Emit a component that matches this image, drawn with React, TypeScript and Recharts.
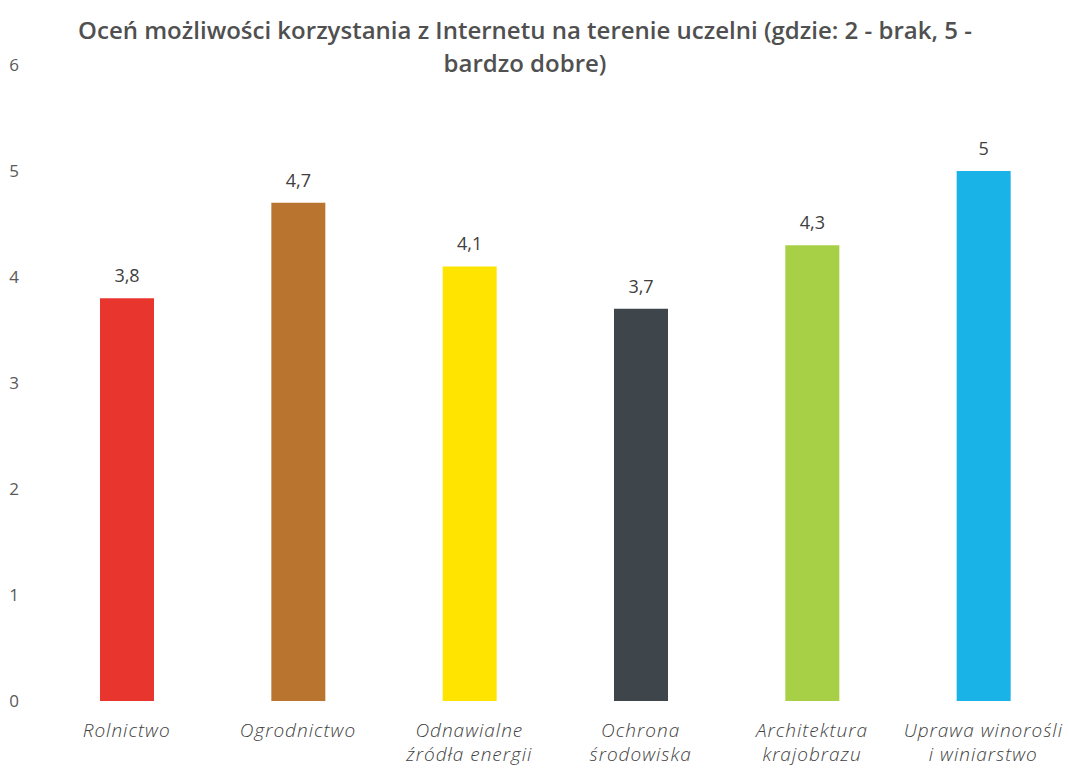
import { BarChart, Bar, XAxis, YAxis, Cell, LabelList } from 'recharts'

// kierunki studiów (etykiety osi X, łamane na dwie linie)
const categories = [
  ['Rolnictwo'],
  ['Ogrodnictwo'],
  ['Odnawialne', 'źródła energii'],
  ['Ochrona', 'środowiska'],
  ['Architektura', 'krajobrazu'],
  ['Uprawa winorośli', 'i winiarstwo'],
]
const scores = [3.8, 4.7, 4.1, 3.7, 4.3, 5]
const barColors = ['#e8352d', '#b97530', '#ffe400', '#3e464c', '#a7d046', '#1ab3e8']
const yTicks = [0, 1, 2, 3, 4, 5, 6]
const titleLines = [
  'Oceń możliwości korzystania z Internetu na terenie uczelni (gdzie: 2 - brak, 5 -',
  'bardzo dobre)',
]

const data = categories.map((lines, i) => ({ name: lines.join('\n'), value: scores[i] }))

const FONT = '"Open Sans", Lato, sans-serif'

const fmt = (v: any) => String(v).replace('.', ',')

const XTick = ({ x, y, payload }: any) => {
  const lines = String(payload.value).split('\n')
  return (
    <text
      x={x}
      y={y}
      textAnchor="middle"
      fill="#404040"
      fontSize={19}
      fontStyle="italic"
      fontWeight={300}
      letterSpacing={1}
      fontFamily={FONT}
    >
      {lines.map((l, i) => (
        <tspan key={i} x={x} dy={i === 0 ? 28 : 24}>
          {l}
        </tspan>
      ))}
    </text>
  )
}

const YTick = ({ y, payload }: any) => (
  <text x={14} y={y} dy={6} textAnchor="middle" fill="#595959" fontSize={17} fontFamily={FONT}>
    {payload.value}
  </text>
)

export default function App() {
  return (
    <div style={{ position: 'absolute', left: 0, top: 0, width: 1069, height: 769, background: '#fff' }}>
      <div
        style={{
          position: 'absolute',
          left: 0,
          top: 13,
          width: 1050,
          textAlign: 'center',
          fontFamily: FONT,
          fontWeight: 600,
          fontSize: 24,
          lineHeight: '33px',
          color: '#505050',
        }}
      >
        {titleLines.map((t, i) => (
          <div key={i}>{t}</div>
        ))}
      </div>
      <BarChart width={1069} height={769} data={data} margin={{ top: 65, right: 0, bottom: 0, left: 0 }}>
        <XAxis dataKey="name" axisLine={false} tickLine={false} interval={0} height={68} tick={<XTick />} />
        <YAxis domain={[0, 6]} ticks={yTicks} axisLine={false} tickLine={false} width={41} tick={<YTick />} />
        <Bar dataKey="value" barSize={54} isAnimationActive={false}>
          {data.map((_, i) => (
            <Cell key={i} fill={barColors[i]} />
          ))}
          <LabelList
            dataKey="value"
            position="top"
            offset={16}
            formatter={fmt}
            fill="#404040"
            fontSize={18}
            fontFamily={FONT}
          />
        </Bar>
      </BarChart>
    </div>
  )
}
